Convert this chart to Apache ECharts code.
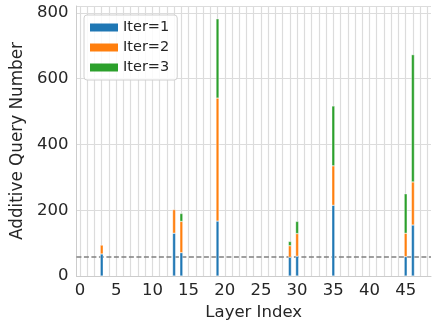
<!DOCTYPE html>
<html>
<head>
<meta charset="utf-8">
<script src="https://cdn.jsdelivr.net/npm/echarts@6/dist/echarts.min.js"></script>
<style>
  html, body { margin: 0; padding: 0; background: #fff; }
  #chart { width: 432px; height: 326px; }
</style>
</head>
<body>
<div id="chart"></div>
<script>
// layers that got extra queries, and what each iteration added
const layers = [3, 13, 14, 19, 29, 30, 35, 45, 46];
const iter1 = [67, 130, 71, 167, 57, 60, 215, 59, 155];
const iter2 = [27, 72, 95, 374, 35, 69, 120, 71, 131];
const iter3 = [0, 0, 24, 241, 13, 37, 182, 120, 387];
const seriesNames = ["Iter=1", "Iter=2", "Iter=3"];
const yTicks = [0, 200, 400, 600, 800];
const layerCount = 49; // x axis runs over layer 0..48
const baseline = 60;

const colors = ["#1f77b4", "#ff7f0e", "#2ca02c"];
const font = "DejaVu Sans";
const textColor = "#262626";

const chart = echarts.init(document.getElementById("chart"));

const categories = Array.from({ length: layerCount }, (_, i) => String(i));

// spread the sparse values over every layer slot
const fill = (vals) => {
  const out = categories.map(() => "-");
  layers.forEach((l, i) => {
    if (vals[i] > 0) out[l] = vals[i];
  });
  return out;
};

const barSeries = [iter1, iter2, iter3].map((vals, i) => ({
  name: seriesNames[i],
  type: "bar",
  stack: "total",
  barWidth: 3,
  z: 4,
  itemStyle: {
    color: colors[i],
    borderColor: "#fff",
    borderWidth: 0.4,
  },
  data: fill(vals),
}));

chart.setOption({
  animation: false,
  textStyle: { fontFamily: font },
  grid: { left: 76.4, right: 1, top: 6, bottom: 50 },
  legend: {
    orient: "vertical",
    left: 84,
    top: 15,
    z: 10,
    icon: "rect",
    itemWidth: 28,
    itemHeight: 8,
    itemGap: 5,
    padding: [5, 8, 5, 6],
    backgroundColor: "rgba(255,255,255,0.85)",
    borderColor: "#d0d0d0",
    borderWidth: 1,
    borderRadius: 3,
    itemStyle: { borderWidth: 0 },
    textStyle: { fontFamily: font, fontSize: 14.5, color: textColor },
    data: seriesNames,
  },
  xAxis: {
    type: "category",
    data: categories,
    boundaryGap: true,
    name: "Layer Index",
    nameLocation: "middle",
    nameGap: 27,
    nameTextStyle: { fontFamily: font, fontSize: 16.5, color: textColor },
    axisLine: { show: true, lineStyle: { color: "#cccccc", width: 1 } },
    axisTick: { show: false },
    axisLabel: {
      interval: (idx) => idx % 5 === 0 && idx <= 45,
      fontFamily: font,
      fontSize: 16.5,
      color: textColor,
      margin: 6,
    },
    splitLine: { show: false },
  },
  yAxis: {
    type: "value",
    min: 0,
    max: 821,
    interval: 200,
    name: "Additive Query Number",
    nameLocation: "middle",
    nameGap: 36,
    nameTextStyle: { fontFamily: font, fontSize: 16.8, color: textColor },
    axisLine: { show: true, lineStyle: { color: "#cccccc", width: 1 } },
    axisTick: { show: false },
    axisLabel: {
      customValues: yTicks,
      fontFamily: font,
      fontSize: 16.5,
      color: textColor,
      margin: 8,
    },
    splitLine: { show: true, lineStyle: { color: "#dcdcdc", width: 1.2 } },
  },
  series: [
    {
      // vertical grid at every layer
      type: "line",
      data: [],
      z: 1,
      silent: true,
      markLine: {
        z: 1,
        silent: true,
        symbol: "none",
        label: { show: false },
        lineStyle: { color: "#dcdcdc", width: 1.2, type: "solid" },
        data: categories.map((c) => ({ xAxis: c })),
      },
    },
    {
      // baseline dashed line
      type: "line",
      data: [],
      z: 2,
      silent: true,
      markLine: {
        z: 2,
        silent: true,
        symbol: "none",
        label: { show: false },
        lineStyle: { color: "#808080", width: 1.5, type: [5, 2.5] },
        data: [{ yAxis: baseline }],
      },
    },
    ...barSeries,
  ],
});
</script>
</body>
</html>
